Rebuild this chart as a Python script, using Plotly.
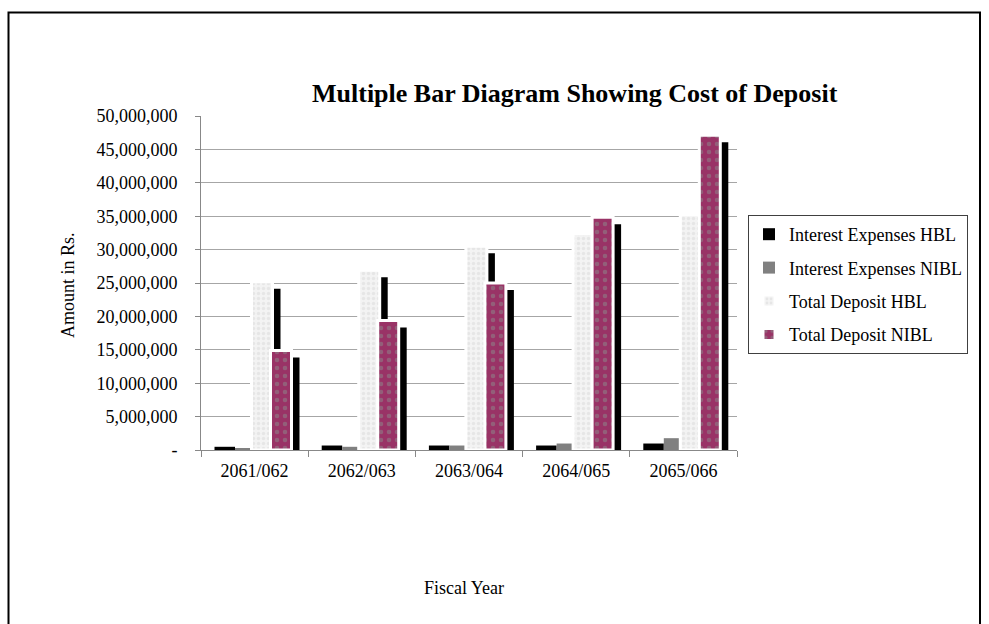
import plotly.graph_objects as go

# Fiscal years (Nepali calendar) and amounts in Rs.
years = ["2061/062", "2062/063", "2063/064", "2064/065", "2065/066"]
interest_hbl = [480000, 670000, 670000, 670000, 970000]
interest_nibl = [220000, 480000, 670000, 970000, 1770000]
deposit_hbl = [25200000, 26900000, 30500000, 32400000, 35200000]
deposit_nibl = [14900000, 19400000, 25000000, 34850000, 47100000]

series_names = ["Interest Expenses HBL", "Interest Expenses NIBL",
                "Total Deposit HBL", "Total Deposit NIBL"]
y_ticks = [0, 5000000, 10000000, 15000000, 20000000, 25000000,
           30000000, 35000000, 40000000, 45000000, 50000000]

# --- layout geometry (pixels) ---
W, H = 989, 624
L, R, T, B = 201, 252, 116, 174
plot_w = W - L - R
plot_h = H - T - B
cat_px = plot_w / len(years)          # pixels per category
y_max = 50000000
px_per_unit = plot_h / y_max


def px_x(p):
    return (p - L) / plot_w


def px_y(p):
    return (H - B - p) / plot_h


serif = "Liberation Serif, Times New Roman, serif"

# bar slots inside a category, in pixels from the category's left edge
slots = [(13.5, 20.5), (34.0, 19.5), (50.5, 21.0), (69.5, 21.0)]
shadow_dx = 8.0                       # shadow shift to the right, px
shadow_dy = 7.0 / px_per_unit         # shadow drop, in data units

styles = [
    dict(color="#000000", line=dict(width=0)),
    dict(color="#808080", line=dict(width=0)),
    dict(color="#f3f3f3", line=dict(color="#ffffff", width=3),
         pattern=dict(shape=".", fgcolor="#d9d9d9", bgcolor="#f3f3f3",
                      size=5, solidity=0.4)),
    dict(color="#993366", line=dict(color="#ffffff", width=3),
         pattern=dict(shape=".", fgcolor="#8c8c8c", bgcolor="#993366",
                      size=8, solidity=0.25)),
]
values = [interest_hbl, interest_nibl, deposit_hbl, deposit_nibl]

fig = go.Figure()
for i, (name, vals, st, (left, width)) in enumerate(zip(series_names, values, styles, slots)):
    off = (left - cat_px / 2) / cat_px
    wid = width / cat_px
    # drop shadow behind each bar
    fig.add_trace(go.Bar(
        x=years, y=vals, base=[-shadow_dy] * len(vals),
        offset=off + shadow_dx / cat_px, width=wid,
        marker=dict(color="#000000", line=dict(width=0)),
        showlegend=False, hoverinfo="skip",
    ))
    fig.add_trace(go.Bar(
        x=years, y=vals, name=name, offset=off, width=wid,
        marker=st, legendgroup=name,
    ))

fig.update_layout(
    width=W, height=H,
    margin=dict(l=L, r=R, t=T, b=B),
    paper_bgcolor="#ffffff", plot_bgcolor="#ffffff",
    barmode="overlay",
    font=dict(family=serif, size=18, color="#000000"),
    showlegend=True,
    legend=dict(
        x=px_x(748), y=px_y(215), xanchor="left", yanchor="top",
        bordercolor="#404040", borderwidth=1, bgcolor="#ffffff",
        font=dict(family=serif, size=18, color="#000000"),
        traceorder="grouped", tracegroupgap=7,
    ),
    xaxis=dict(
        type="category", range=[-0.5, len(years) - 0.5],
        showgrid=False, showline=True, linecolor="#888888", linewidth=1,
        ticks="outside", ticklen=6, tickcolor="#888888", tickson="boundaries",
        tickfont=dict(family=serif, size=18), ticklabelstandoff=4,
    ),
    yaxis=dict(
        range=[0, y_max], tickvals=y_ticks,
        ticktext=["-"] + [f"{v:,}" for v in y_ticks[1:]],
        showgrid=True, gridcolor="#a6a6a6", gridwidth=1,
        showline=True, linecolor="#888888", linewidth=1,
        ticks="outside", ticklen=5, tickcolor="#888888",
        tickfont=dict(family=serif, size=18), ticklabelstandoff=14,
        zeroline=False,
    ),
    annotations=[
        dict(text="<b>Multiple Bar Diagram Showing Cost of Deposit</b>",
             xref="paper", yref="paper", x=px_x(575), y=px_y(93),
             xanchor="center", yanchor="middle", showarrow=False,
             font=dict(family=serif, size=26, color="#000000")),
        dict(text="Amount in Rs.", xref="paper", yref="paper",
             x=px_x(68), y=px_y(285), xanchor="center", yanchor="middle",
             textangle=-90, showarrow=False,
             font=dict(family=serif, size=18, color="#000000")),
        dict(text="Fiscal Year", xref="paper", yref="paper",
             x=px_x(464), y=px_y(588), xanchor="center", yanchor="middle",
             showarrow=False, font=dict(family=serif, size=18, color="#000000")),
    ],
    shapes=[
        dict(type="rect", xref="paper", yref="paper",
             x0=px_x(8.5), x1=px_x(980), y0=px_y(640), y1=px_y(12.5),
             line=dict(color="#000000", width=2), layer="below"),
    ],
)

fig.write_html("out.html")
